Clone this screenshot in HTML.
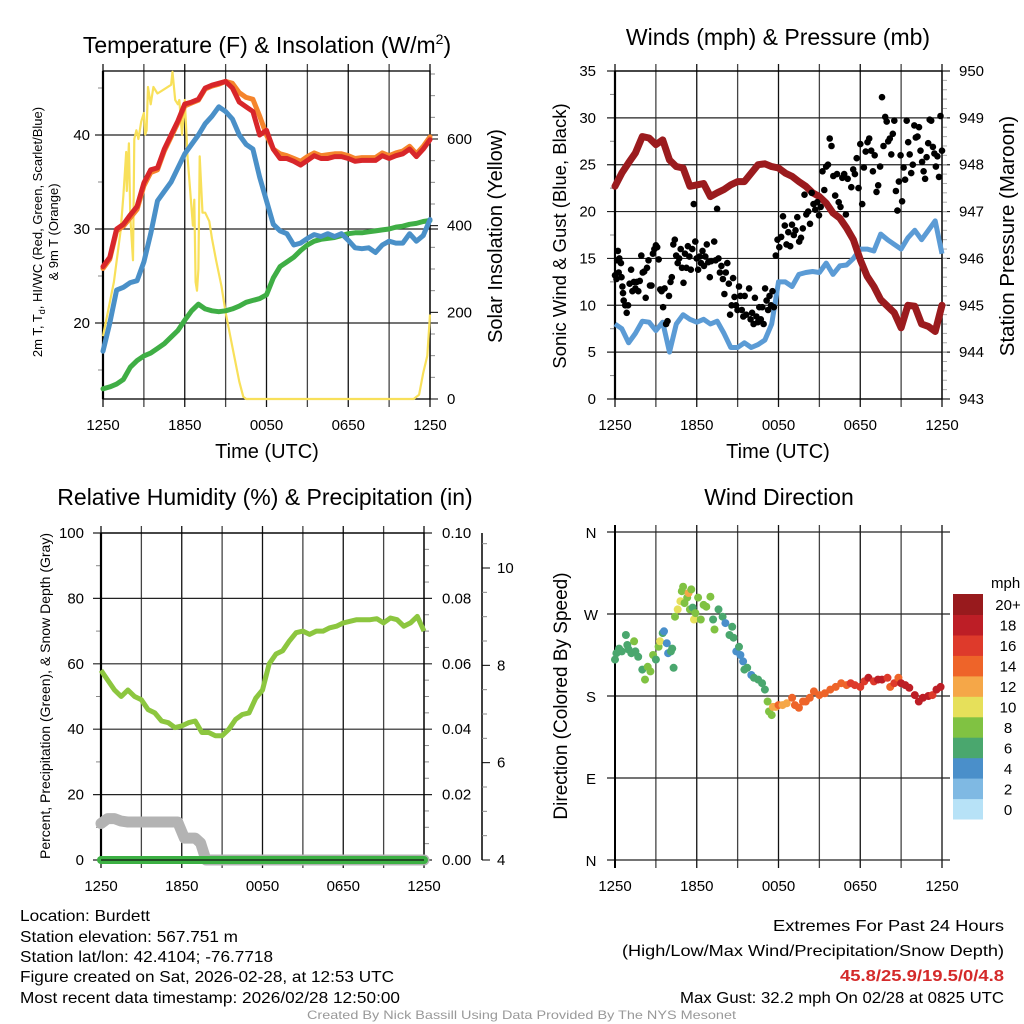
<!DOCTYPE html>
<html><head><meta charset="utf-8">
<style>
html,body{margin:0;padding:0;background:#fff;}
svg{display:block;font-family:"Liberation Sans",sans-serif;}
</style></head>
<body>
<svg id="chart" width="1024" height="1024" viewBox="0 0 1024 1024" xmlns="http://www.w3.org/2000/svg">
<rect width="1024" height="1024" fill="#fff"/>
<text x="267" y="53" font-size="23" text-anchor="middle">Temperature (F) &amp; Insolation (W/m<tspan dy="-9" font-size="14">2</tspan><tspan dy="9">)</tspan></text>
<text x="778" y="45" font-size="23" text-anchor="middle">Winds (mph) &amp; Pressure (mb)</text>
<text x="265" y="505" font-size="23" text-anchor="middle">Relative Humidity (%) &amp; Precipitation (in)</text>
<text x="779" y="505" font-size="23" text-anchor="middle">Wind Direction</text>

<text transform="translate(42,232) rotate(-90)" font-size="13" text-anchor="middle">2m T, T<tspan font-size="9" dy="3">d</tspan><tspan dy="-3">, HI/WC (Red, Green, Scarlet/Blue)</tspan></text>
<text transform="translate(58,232) rotate(-90)" font-size="13" text-anchor="middle">&amp; 9m T (Orange)</text>
<text transform="translate(502,236) rotate(-90)" font-size="20" text-anchor="middle">Solar Insolation (Yellow)</text>
<text x="267" y="458" font-size="20" text-anchor="middle">Time (UTC)</text>
<text transform="translate(566,236) rotate(-90)" font-size="18.5" text-anchor="middle">Sonic Wind &amp; Gust (Blue, Black)</text>
<text transform="translate(1014,236) rotate(-90)" font-size="20.5" text-anchor="middle">Station Pressure (Maroon)</text>
<text x="778" y="458" font-size="20" text-anchor="middle">Time (UTC)</text>
<text transform="translate(50,696) rotate(-90)" font-size="14" text-anchor="middle">Percent, Precipitation (Green), &amp; Snow Depth (Gray)</text>
<text transform="translate(567,696) rotate(-90)" font-size="19" text-anchor="middle">Direction (Colored By Speed)</text>

<g font-size="16">
<text x="20" y="921" textLength="130" lengthAdjust="spacingAndGlyphs">Location: Burdett</text>
<text x="20" y="942" textLength="218" lengthAdjust="spacingAndGlyphs">Station elevation: 567.751 m</text>
<text x="20" y="962" textLength="253" lengthAdjust="spacingAndGlyphs">Station lat/lon: 42.4104; -76.7718</text>
<text x="20" y="982" textLength="374" lengthAdjust="spacingAndGlyphs">Figure created on Sat, 2026-02-28, at 12:53 UTC</text>
<text x="20" y="1003" textLength="380" lengthAdjust="spacingAndGlyphs">Most recent data timestamp: 2026/02/28 12:50:00</text>
</g>
<g font-size="16">
<text x="773" y="931" textLength="231" lengthAdjust="spacingAndGlyphs">Extremes For Past 24 Hours</text>
<text x="622" y="956" textLength="382" lengthAdjust="spacingAndGlyphs">(High/Low/Max Wind/Precipitation/Snow Depth)</text>
<text x="840" y="981" fill="#d42a2a" font-weight="bold" textLength="164" lengthAdjust="spacingAndGlyphs">45.8/25.9/19.5/0/4.8</text>
<text x="680" y="1003" textLength="324" lengthAdjust="spacingAndGlyphs">Max Gust: 32.2 mph On 02/28 at 0825 UTC</text>
</g>
<text x="307" y="1019" font-size="12" fill="#999" textLength="429" lengthAdjust="spacingAndGlyphs">Created By Nick Bassill Using Data Provided By The NYS Mesonet</text>
<g id="plots"></g>
</svg>
<script>
// ---- shared time axis ----
const hours = [0,0.5,1,1.5,2,2.5,3,3.5,4,4.5,5,5.5,6,6.5,7,7.5,8,8.5,9,9.5,10,10.5,11,11.5,12,12.5,13,13.5,14,14.5,15,15.5,16,16.5,17,17.5,18,18.5,19,19.5,20,20.5,21,21.5,22,22.5,23,23.5,24];
const timeTickLabels = ["1250","1850","0050","0650","1250"];
// ---- panel 1 ----
const temp2m = [26,27,30,30.5,31.5,32.4,34.9,36.3,36.5,38.5,40,41.5,43.3,43.5,43.8,45,45.3,45.5,45.7,45,43.5,43,42.5,40,40.5,38.5,37.5,37.5,37.2,36.8,37.3,37.8,37.5,37.5,37.7,37.7,37.5,37.2,37.3,37.3,37.3,37.8,37.5,37.8,38,38.5,37.7,38.5,39.5];
const temp9m = [25.8,26.8,29.8,30.3,31.2,32.1,34.6,36,36.3,38.3,39.8,41.3,43.1,43.4,43.7,44.9,45.2,45.4,45.7,45.5,44.5,44,43.8,42,40,38.5,38,37.8,37.5,37.2,37.7,38.1,37.8,37.9,38,38,37.8,37.5,37.6,37.6,37.6,38.1,37.8,38.1,38.3,38.8,38,38.8,39.8];
const heatIndex = [17,20,23.5,23.8,24.3,24.5,26.5,29.5,33,34,35,36.5,38,39,40,41.2,42,43,42.5,41.7,40,39,38.5,35.5,33,30.5,29.8,29.5,28.3,28.5,29,29.4,29.2,29.5,29.2,29.5,28.8,28,27.9,28,27.5,28.3,28.7,28.5,28.5,29.5,28.7,29.3,31];
const dewpoint = [13,13.2,13.5,14,15.3,16,16.5,16.8,17.3,17.8,18.5,19.2,20.3,21.3,22,21.5,21.3,21.2,21.3,21.5,21.8,22.2,22.4,22.6,23,24.8,26,26.5,27,27.7,28.3,28.7,28.9,29,29.1,29.3,29.5,29.6,29.6,29.7,29.8,29.9,30,30.2,30.3,30.5,30.6,30.8,30.9];
const solarHours = [0,0.8,1.3,1.5,1.7,1.75,1.9,2.0,2.2,2.3,2.45,2.6,2.8,3.0,3.1,3.2,3.3,3.5,3.7,4.0,4.5,5.0,5.1,5.3,5.5,5.6,5.8,6.0,6.2,6.4,6.6,6.7,6.8,6.9,7.0,7.1,7.3,7.5,7.8,8.0,8.3,8.7,9.0,9.5,10.0,10.3,10.5,22.8,23.2,23.5,23.8,24];
const solar = [145,270,390,470,570,480,590,420,320,600,620,600,640,660,610,620,720,680,720,705,715,725,755,690,680,690,610,690,560,480,400,460,270,250,300,560,430,430,410,370,320,260,200,120,40,5,0,0,10,60,100,195];
const tempTicks = [20,30,40];
const solarTicks = [0,200,400,600];
// ---- panel 2 ----
const windSpeed = [8,7.5,6,7,8.3,8.2,7.3,8.2,5,8,9,8.5,8.2,8.5,8,8.3,7,5.5,5.5,6,5.5,5.8,6.3,8,12.5,12.5,12,13.3,13.5,13.6,13.5,14.5,13.3,14.2,14.3,15,16,16,15.8,17.6,17,16.5,16,17.2,18,17,18,19,15.5];
const pressure = [947.54,947.82,948.04,948.25,948.6,948.57,948.43,948.53,948.1,947.96,947.93,947.54,947.57,947.6,947.32,947.4,947.47,947.57,947.64,947.64,947.82,948,948.02,947.96,947.93,947.82,947.75,947.64,947.54,947.4,947.32,947.18,946.97,946.86,946.65,946.4,945.97,945.62,945.4,945.12,944.98,944.84,944.52,945.0,944.98,944.6,944.55,944.44,945.0];
const gustHours = [0,.11,.16,.21,.27,.32,.43,.48,.54,.59,.64,.75,.86,.96,1.07,1.18,1.28,1.39,1.5,1.6,1.71,1.82,1.93,2.03,2.14,2.25,2.35,2.46,2.57,2.68,2.78,2.89,3.0,3.1,3.21,3.32,3.42,3.53,3.64,3.75,3.85,3.96,4.07,4.17,4.28,4.39,4.49,4.6,4.71,4.82,4.92,5.03,5.14,5.24,5.35,5.46,5.56,5.67,5.78,5.89,5.99,6.1,6.21,6.31,6.42,6.53,6.63,6.74,6.85,6.96,7.06,7.28,7.38,7.49,7.6,7.7,7.81,7.92,8.03,8.13,8.24,8.35,8.45,8.56,8.67,8.77,8.88,8.99,9.1,9.2,9.31,9.42,9.52,9.63,9.84,9.95,10.06,10.17,10.27,10.38,10.49,10.59,10.7,10.81,10.91,11.02,11.13,11.24,11.34,11.45,11.56,11.66,11.8,11.93,12.06,12.2,12.33,12.46,12.59,12.72,12.86,12.99,13.12,13.25,13.38,13.52,13.65,13.78,13.91,14.04,14.18,14.31,14.44,14.57,14.7,14.84,14.97,15.1,15.23,15.36,15.5,15.63,15.76,15.89,16.02,16.16,16.29,16.42,16.55,16.68,16.82,16.95,17.08,17.34,17.48,17.61,17.74,17.87,18.0,18.14,18.27,18.4,18.53,18.66,18.8,18.93,19.06,19.19,19.32,19.46,19.6,19.71,19.83,19.94,20.05,20.17,20.28,20.39,20.5,20.62,20.73,20.84,20.96,21.07,21.18,21.29,21.41,21.52,21.63,21.74,21.86,21.97,22.08,22.2,22.31,22.42,22.54,22.65,22.76,22.87,22.99,23.1,23.21,23.33,23.44,23.55,23.66,23.78,23.89,24.0];
const gust = [13.2,12.8,14.8,15.8,13.5,15,14.5,13,12,11.3,10.5,10,9.2,10,12.3,13.8,11.5,12.5,11.8,12.5,11.5,12.6,15.3,13.5,13.6,10.8,14,14.8,12.1,12.1,15.5,16,16.4,16.2,14.9,11.7,11.5,9.8,11.8,8,8.3,11,12.5,13,16.5,17,15.3,14.5,15,16,14,12.4,15.5,14,16.3,15.2,13.8,16,20.8,16.8,15,13.8,15.2,14.5,15.8,14.2,15.2,16.5,14.6,13,14.7,16.8,14.8,20.3,15,13.5,14.2,12.8,11.2,13.5,14.5,12.3,9,10,12.9,10.9,10,9.5,12,11,9.5,8.8,11,9,11.8,8.5,9.2,8,10.8,8.8,8.2,9.8,8.5,9.8,8,11.8,10.5,9.5,11,10,11.5,9.8,15.3,17,16.2,17.3,19.5,18.5,16.5,17.8,16.3,18.6,17.5,18,19.4,16.8,17.2,18.2,21.8,19.7,20,18.7,22,20.8,20.2,21,19.6,20.5,24.3,22.3,24.8,25,27.8,27,23.8,21.7,24,21,20.5,23.6,24,19.7,23.5,22.6,24.5,24,25.7,22.5,27.2,20.8,24.7,26.4,27.4,27.8,26.5,24.3,26,22.1,22.8,24.8,32.2,27,30.1,29.6,27.5,27.8,26.1,28.3,29.7,22.2,20.1,23.2,26,21.1,24.7,23.4,29.7,27.4,26.1,24.1,25,29.2,27.9,28,29,26.5,25.3,24.3,23.5,25.8,27.3,29.8,29.7,26.9,26.2,24.8,25.9,23.7,30.2,26.5];
const windTicks = [0,5,10,15,20,25,30,35];
const pressureTicks = [943,944,945,946,947,948,949,950];
// ---- panel 3 ----
const rh = [58,55,52,50,52,50,49,46,45,42.5,42,40.5,41,42,42.5,39,39,38,38,40,43,44.5,45,49.5,52,60,63,64,67,69.5,70,69,70,70,71,71.5,72.5,73,73.5,73.5,73.5,73.8,72.5,74,73.5,71.5,72.5,74.5,70];
const snowHours = [0,0.5,1,1.5,2,5.7,6.2,7,7.4,7.8,24];
const snowDepth = [4.75,4.85,4.85,4.8,4.78,4.78,4.45,4.45,4.35,4.0,4.0];
const precipHours = [0,24];
const precip = [0,0];
const rhTicks = [0,20,40,60,80,100];
const precipTicks = ["0.00","0.02","0.04","0.06","0.08","0.10"];
const snowTicks = [4,6,8,10];
// ---- panel 4 ----
const dirHours = [0,0.1,0.3,0.5,0.8,0.9,1.0,1.2,1.4,1.5,1.7,2.0,2.2,2.4,2.6,2.8,3.0,3.2,3.3,3.5,3.6,3.8,3.9,4.1,4.2,4.3,4.4,4.6,4.8,4.9,5.0,5.1,5.3,5.4,5.5,5.6,5.7,5.8,5.9,6.1,6.3,6.5,6.7,7.0,7.2,7.3,7.6,7.9,8.1,8.4,8.6,8.7,8.9,9.1,9.2,9.4,9.5,9.7,10.0,10.2,10.5,10.8,11.0,11.2,11.3,11.5,11.6,11.8,12.0,12.3,12.6,13.0,13.2,13.5,13.8,14.0,14.3,14.6,15.0,15.4,15.8,16.2,16.6,17.0,17.3,17.6,18.0,18.3,18.6,19.0,19.3,19.6,20.0,20.2,20.5,20.8,21.0,21.3,21.6,22.0,22.3,22.6,23.0,23.3,23.6,23.9];
const dirDeg = [220,227,232,229,247,236,231,227,240,229,223,209,198,212,207,225,220,234,240,249,251,238,227,229,232,211,267,275,284,295,300,282,288,293,275,297,277,264,271,288,264,280,278,289,264,253,275,267,260,247,256,244,229,234,225,218,209,211,203,200,198,194,187,174,163,159,168,168,170,170,172,178,170,167,174,174,178,185,181,183,187,190,194,192,194,192,190,196,200,196,198,198,200,190,194,200,194,192,189,181,174,178,180,181,187,190];
const dirSpeed = [7,7,7,7,6,6,6,6,8,6,6,7,8,8,8,8,6,8,10,7,4,4,4,6,7,6,8,10,10,8,8,8,8,12,8,8,7,10,8,8,8,8,8,8,6,8,7,6,4,6,6,6,4,6,4,4,6,6,4,6,6,6,6,8,8,8,12,12,14,12,12,14,14,14,14,14,14,14,14,14,14,14,14,14,16,16,16,16,18,16,18,18,16,14,16,14,18,18,18,18,18,18,18,16,18,18];
const speedBinLabels = ["0","2","4","6","8","10","12","14","16","18","20+"];
const speedBinColors = ["#b7e2f7","#7fb9e3","#4a8fca","#4aa76e","#80c242","#e6e05a","#f5a748","#ee6429","#de3a2b","#bd1e26","#981a1d"];
const dirTicks = ["N","E","S","W","N"];

const NS="http://www.w3.org/2000/svg";
const root=document.getElementById('plots');
function el(tag,attrs,parent){const e=document.createElementNS(NS,tag);for(const k in attrs)e.setAttribute(k,attrs[k]);(parent||root).appendChild(e);return e;}
function lin(d0,d1,r0,r1){return v=>r0+(v-d0)*(r1-r0)/(d1-d0);}
function pathOf(xs,ys,fx,fy){return xs.map((x,i)=>(i?'L':'M')+fx(x).toFixed(1)+','+fy(ys[i]).toFixed(1)).join('');}
function txt(x,y,s,attrs,parent){const t=el('text',Object.assign({x:x,y:y,'font-size':15},attrs||{}),parent);t.textContent=s;return t;}

function timeGrid(g,x0,x1,y0,y1,fx,labY){
  for(let h=0;h<=24;h+=3){
    const x=fx(h);
    const ln=el('line',{x1:x,x2:x,y1:y0-7,y2:y1+8,stroke:(h%6?'#444':'#111'),'stroke-width':1.3},g);
    
    
  }
  for(let i=0;i<timeTickLabels.length;i++){
    const t=txt(fx(i*6),labY,timeTickLabels[i],{'text-anchor':'middle'},g);
    
    
  }
}
function hGrid(g,x0,x1,y,lab,lx){
  const ln=el('line',{x1:x0-8,x2:x1+8,y1:y,y2:y,stroke:'#222','stroke-width':1.2},g);
  
  
}
function frame(g,x0,x1,y0,y1){
  el('rect',{x:x0,y:y0,width:x1-x0,height:y1-y0,fill:'none',stroke:'#000','stroke-width':1.3},g);
  el('line',{x1:x0,x2:x0,y1:y0,y2:y1,stroke:'#000','stroke-width':2.2},g);
}

// ===== Panel 1 =====
(function(){
  const g=el('g',{});
  
  
  const x0=103,x1=430,y0=71,y1=399;
  const fx=lin(0,24,x0,x1), fy=lin(20,40,323,135), fs=lin(0,600,399,139);
  timeGrid(g,x0,x1,y0,y1,fx,430);
  tempTicks.forEach(v=>{hGrid(g,x0,x1,fy(v));const t=txt(90,fy(v)+5,String(v),{'text-anchor':'end'},g);});
  [15,25,35,45].forEach(v=>el('line',{x1:x0-5,x2:x0,y1:fy(v),y2:fy(v),stroke:'#888'},g));
  solarTicks.forEach(v=>{el('line',{x1:x1,x2:x1+8,y1:fs(v),y2:fs(v),stroke:'#000'},g);const t=txt(447,fs(v)+5,String(v),{},g);});
  for(let v=50;v<=750;v+=50){if(v%200)el('line',{x1:x1,x2:x1+5,y1:fs(v),y2:fs(v),stroke:'#888'},g);}
  frame(g,x0,x1,y0,y1);
  const sp=el('path',{d:pathOf(solarHours,solar,fx,fs),fill:'none',stroke:'#f8e05a','stroke-width':2.2,'stroke-linejoin':'round'},g);
  
  const series=[[dewpoint,'#3fae45','dewpoint-line'],[heatIndex,'#4a90c8','heat-index-line'],[temp9m,'#f5842c','temp-9m-line'],[temp2m,'#d8262a','temp-2m-line']];
  series.forEach(s=>{const p=el('path',{d:pathOf(hours,s[0],fx,fy),fill:'none',stroke:s[1],'stroke-width':5,'stroke-linejoin':'round','stroke-linecap':'round'},g);
    });
})();

// ===== Panel 2 =====
(function(){
  const g=el('g',{});
  
  
  const x0=615,x1=942,y0=71,y1=399;
  const fx=lin(0,24,x0,x1), fy=lin(0,35,399,71), fp=lin(943,950,399,71);
  timeGrid(g,x0,x1,y0,y1,fx,430);
  windTicks.forEach(v=>{hGrid(g,x0,x1,fy(v));const t=txt(596,fy(v)+5,String(v),{'text-anchor':'end'},g);});
  for(let v=2.5;v<35;v+=5)el('line',{x1:x0-5,x2:x0,y1:fy(v),y2:fy(v),stroke:'#888'},g);
  pressureTicks.forEach(v=>{const t=txt(959,fp(v)+5,String(v),{},g);});
  for(let v=943.2;v<950;v+=0.2)el('line',{x1:x1,x2:x1+5,y1:fp(v),y2:fp(v),stroke:'#aaa'},g);
  frame(g,x0,x1,y0,y1);
  const w=el('path',{d:pathOf(hours,windSpeed,fx,fy),fill:'none',stroke:'#5b9bd5','stroke-width':5,'stroke-linejoin':'round'},g);
  
  const p=el('path',{d:pathOf(hours,pressure,fx,fp),fill:'none',stroke:'#9b1b1e','stroke-width':7,'stroke-linejoin':'round','stroke-linecap':'round'},g);
  
  gustHours.forEach((h,i)=>{const c=el('circle',{cx:fx(h).toFixed(1),cy:fy(gust[i]).toFixed(1),r:3.3,fill:'#000'},g);
    });
})();

// ===== Panel 3 =====
(function(){
  const g=el('g',{});
  
  
  const x0=101,x1=424,y0=533,y1=860;
  const fx=lin(0,24,x0,x1), fy=lin(0,100,860,533), fsn=lin(4,10,860,568);
  timeGrid(g,x0,x1,y0,y1,fx,891);
  rhTicks.forEach((v,i)=>{hGrid(g,x0,x1,fy(v));
    const t=txt(84,fy(v)+5,String(v),{'text-anchor':'end'},g);
    const t2=txt(442,fy(v)+5,precipTicks[i],{},g);});
  for(let v=10;v<100;v+=20)el('line',{x1:x0-5,x2:x0,y1:fy(v),y2:fy(v),stroke:'#888'},g);
  for(let v=5;v<100;v+=5)if(v%20)el('line',{x1:x1,x2:x1+5,y1:fy(v),y2:fy(v),stroke:'#888'},g);
  const ax=el('line',{x1:482,x2:482,y1:533,y2:860,stroke:'#000','stroke-width':1.5},g);
  
  snowTicks.forEach(v=>{el('line',{x1:482,x2:490,y1:fsn(v),y2:fsn(v),stroke:'#000'},g);const t=txt(497,fsn(v)+5,String(v),{},g);});
  for(let v=4.5;v<10.7;v+=0.5)if(v%2)el('line',{x1:482,x2:487,y1:fsn(v),y2:fsn(v),stroke:'#888'},g);
  frame(g,x0,x1,y0,y1);
  const sn=el('path',{d:pathOf(snowHours,snowDepth,fx,fsn),fill:'none',stroke:'#b3b3b3','stroke-width':11,'stroke-linejoin':'round','stroke-linecap':'round'},g);
  
  const pr=el('path',{d:pathOf(precipHours,precip,fx,fy),fill:'none',stroke:'#3cb043','stroke-width':8,'stroke-linecap':'round'},g);
  
  el('line',{x1:x0,x2:x1,y1:y1,y2:y1,stroke:'#111','stroke-width':1.2},g);
  const r=el('path',{d:pathOf(hours,rh,fx,fy),fill:'none',stroke:'#8cc63f','stroke-width':5,'stroke-linejoin':'round'},g);
  
})();

// ===== Panel 4 =====
(function(){
  const g=el('g',{});
  
  
  const x0=615,x1=942,y0=532,y1=860;
  const fx=lin(0,24,x0,x1), fy=lin(0,360,860,532);
  timeGrid(g,x0,x1,y0,y1,fx,891);
  dirTicks.forEach((s,i)=>{const y=fy(i*90);hGrid(g,x0,x1,y);
    const t=txt(591,y+6,s,{'text-anchor':'middle'},g);});
  el('line',{x1:x0,x2:x0,y1:y0-7,y2:y1+8,stroke:'#000','stroke-width':2},g);
  dirHours.forEach((h,i)=>{const bin=Math.min(10,Math.floor(dirSpeed[i]/2));
    const c=el('circle',{cx:fx(h).toFixed(1),cy:fy(dirDeg[i]).toFixed(1),r:4,fill:speedBinColors[bin]},g);
    });
  // colorbar
  const cb=el('g',{},g);
  
  
  const bh=(819-594)/11;
  speedBinLabels.forEach((lab,i)=>{const y=819-(i+1)*bh;
    const r=el('rect',{x:953,y:y.toFixed(1),width:30,height:(bh+0.5).toFixed(1),fill:speedBinColors[i]},cb);
    
    const t=txt(1008,y+bh/2+6,lab,{'text-anchor':'middle','font-size':15},cb);});
  const u=txt(991,588,'mph',{'font-size':15},cb);
  
})();
</script>
</body></html>
